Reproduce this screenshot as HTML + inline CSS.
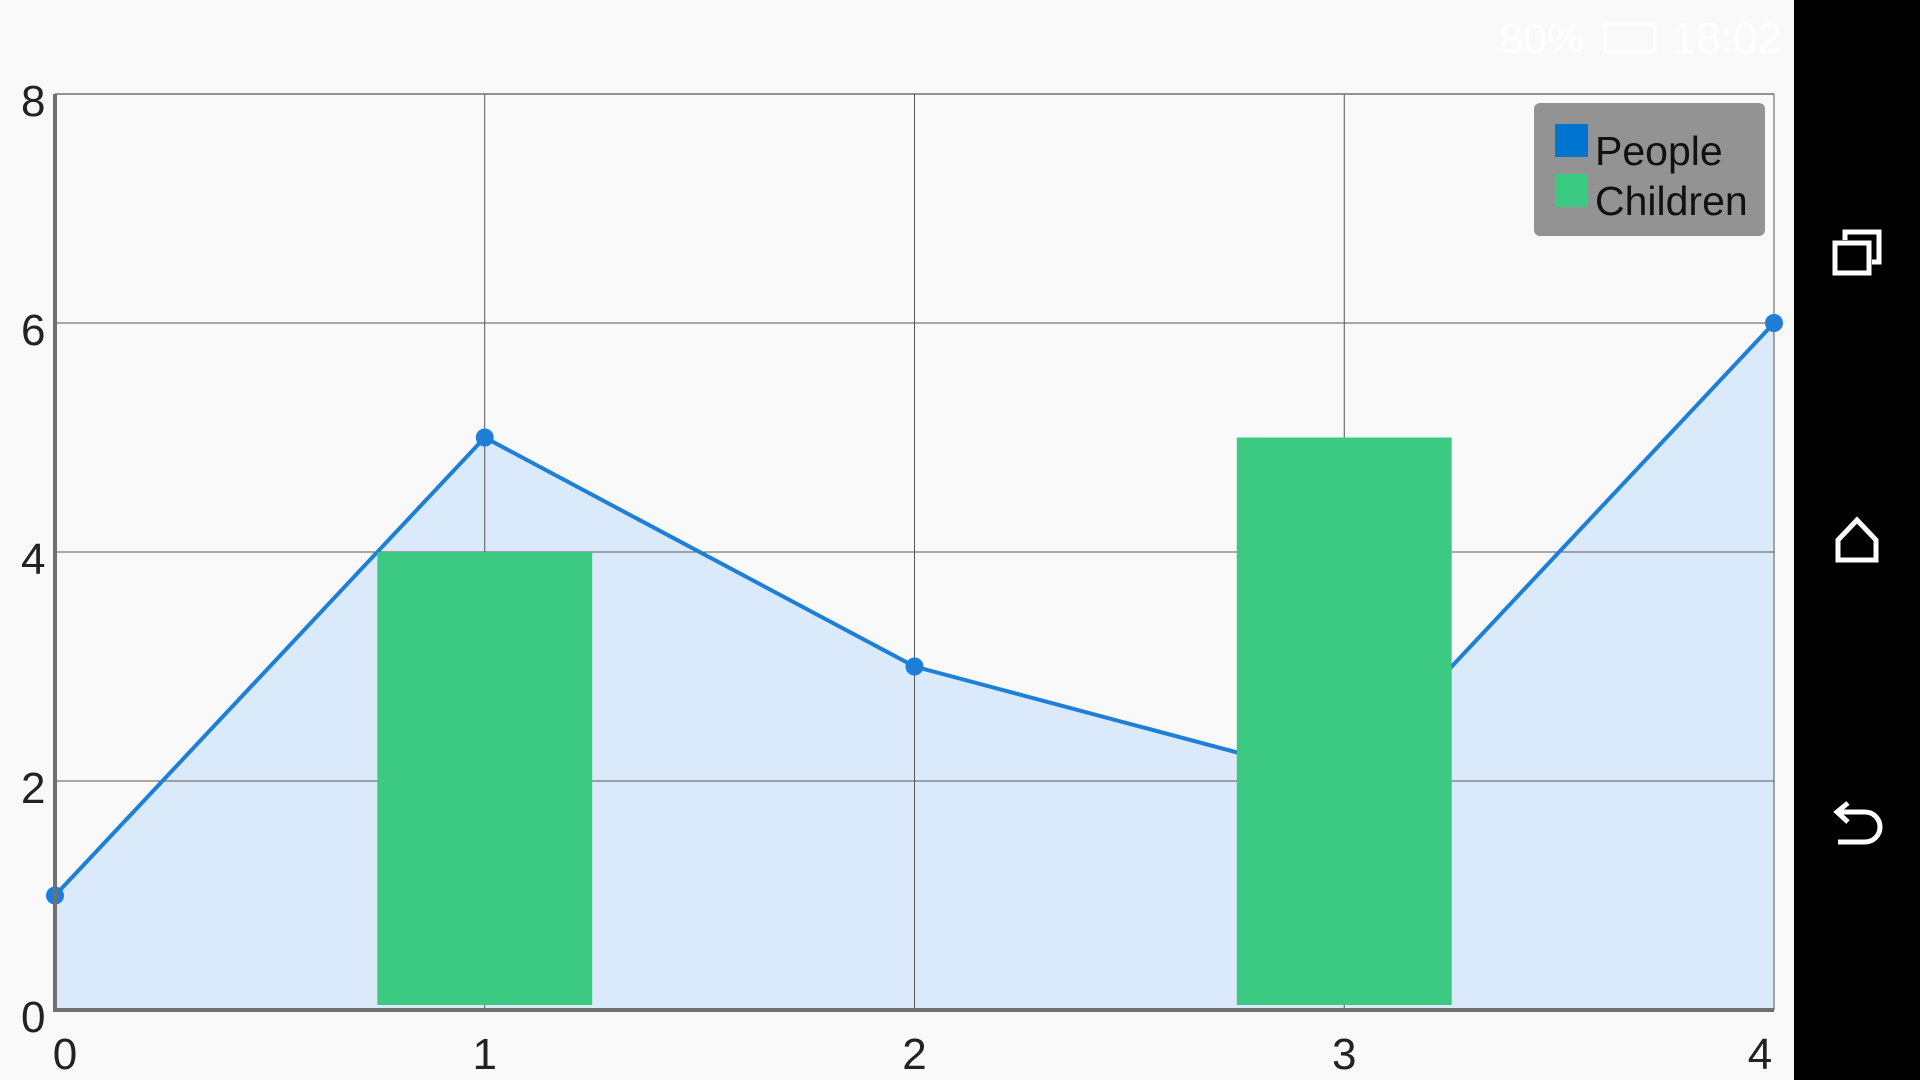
<!DOCTYPE html>
<html><head><meta charset="utf-8"><style>
html,body{margin:0;padding:0;background:#f9f9f9;width:1920px;height:1080px;overflow:hidden}
svg{display:block}
text{font-family:"Liberation Sans",sans-serif}
</style></head><body>
<svg id="chart" width="1920" height="1080" viewBox="0 0 1920 1080">
<rect x="0" y="0" width="1794" height="1080" fill="#f9f9f9"/>
<g id="statusbar" fill="#ffffff" opacity="0.9">
<text x="1500" y="53" font-size="42" fill="#ffffff">80%</text>
<rect x="1605" y="24" width="50" height="28" fill="none" stroke="#fff" stroke-width="3"/>
<text x="1672" y="53" font-size="44" fill="#ffffff">18:02</text>
</g>
<g id="plot"></g>
<g id="legend">
<rect x="1534" y="103" width="231" height="133" rx="6" fill="#939393"/>
<rect x="1555" y="124" width="33" height="33" fill="#0075d0"/>
<text x="1595" y="165" font-size="41" fill="#111">People</text>
<rect x="1555" y="174" width="33" height="33" fill="#3cc981"/>
<text x="1595" y="215" font-size="41" fill="#111">Children</text>
</g>
<g>
<rect x="1794" y="0" width="126" height="1080" fill="#000"/>
<g fill="none" stroke="#fff" stroke-width="5">
<rect x="1835" y="243" width="34" height="30"/>
<path d="M1845 240 V232 H1879 V262 H1872"/>
</g>
<path d="M1838 560 V540 L1857 520 L1876 540 V560 Z" fill="none" stroke="#fff" stroke-width="5"/>
<path d="M1840 812 H1865 A15 15 0 0 1 1865 842 H1838 M1848 803 L1837 812 L1848 822" fill="none" stroke="#fff" stroke-width="5"/>
</g>
</svg>
<script>
const categories = [0, 1, 2, 3, 4];
const peopleValues = [1, 5, 3, 2, 6];
const childrenX = [1, 3];
const childrenValues = [4, 5];
const yTicks = [0, 2, 4, 6, 8];
const xTicks = ["0", "1", "2", "3", "4"];

const L = 55, R = 1774, T = 94, B = 1010;
const xs = v => L + (v - 0) / 4 * (R - L);
const ys = v => B - v / 8 * (B - T);
const NS = "http://www.w3.org/2000/svg";
const g = document.getElementById('plot');
function mk(tag, attrs) {
  const e = document.createElementNS(NS, tag);
  for (const k in attrs) e.setAttribute(k, attrs[k]);
  g.appendChild(e);
  return e;
}
let d = `M${xs(categories[0])},${B}`;
categories.forEach((c, i) => d += ` L${xs(c)},${ys(peopleValues[i])}`);
d += ` L${xs(categories[categories.length - 1])},${B} Z`;
let area = mk('path', { d: d, fill: '#dbeafa' });


yTicks.forEach(t => {
  const ln = mk('line', { x1: L, x2: R, y1: ys(t), y2: ys(t), stroke: '#555', 'stroke-width': 1 });
  
  
  const tx = mk('text', { x: 21, y: ys(t) + 22, 'font-size': 44, fill: '#222' });
  tx.textContent = t;
  
  
});
categories.forEach((c, i) => {
  const ln = mk('line', { x1: xs(c), x2: xs(c), y1: T, y2: B, stroke: '#555', 'stroke-width': 1 });
  
  
  const tx = mk('text', { x: i === 0 ? xs(c) + 10 : (i === 4 ? xs(c) - 14 : xs(c)), y: 1069, 'font-size': 44, fill: '#222', 'text-anchor': 'middle' });
  tx.textContent = xTicks[i];
  
  
});
let pd = '';
categories.forEach((c, i) => pd += (i ? ' L' : 'M') + `${xs(c)},${ys(peopleValues[i])}`);
const line = mk('path', { d: pd, fill: 'none', stroke: '#1e7fd8', 'stroke-width': 4 });


categories.forEach((c, i) => {
  const p = mk('circle', { cx: xs(c), cy: ys(peopleValues[i]), r: 9, fill: '#1e7fd8' });
  
  
});
const bw = 0.5;
childrenX.forEach((c, i) => {
  const x0 = xs(c - bw / 2), x1 = xs(c + bw / 2);
  const b = mk('rect', { x: x0, y: ys(childrenValues[i]), width: x1 - x0, height: (B - 5) - ys(childrenValues[i]), fill: '#3cc981' });
  
  
});
const ax = mk('line', { x1: L, x2: L, y1: T, y2: B + 2, stroke: '#707070', 'stroke-width': 4 });


const bx = mk('line', { x1: L, x2: R, y1: B, y2: B, stroke: '#707070', 'stroke-width': 4 });


const tp = mk('line', { x1: L, x2: R, y1: T, y2: T, stroke: '#707070', 'stroke-width': 1.5 });


</script>
</body></html>
